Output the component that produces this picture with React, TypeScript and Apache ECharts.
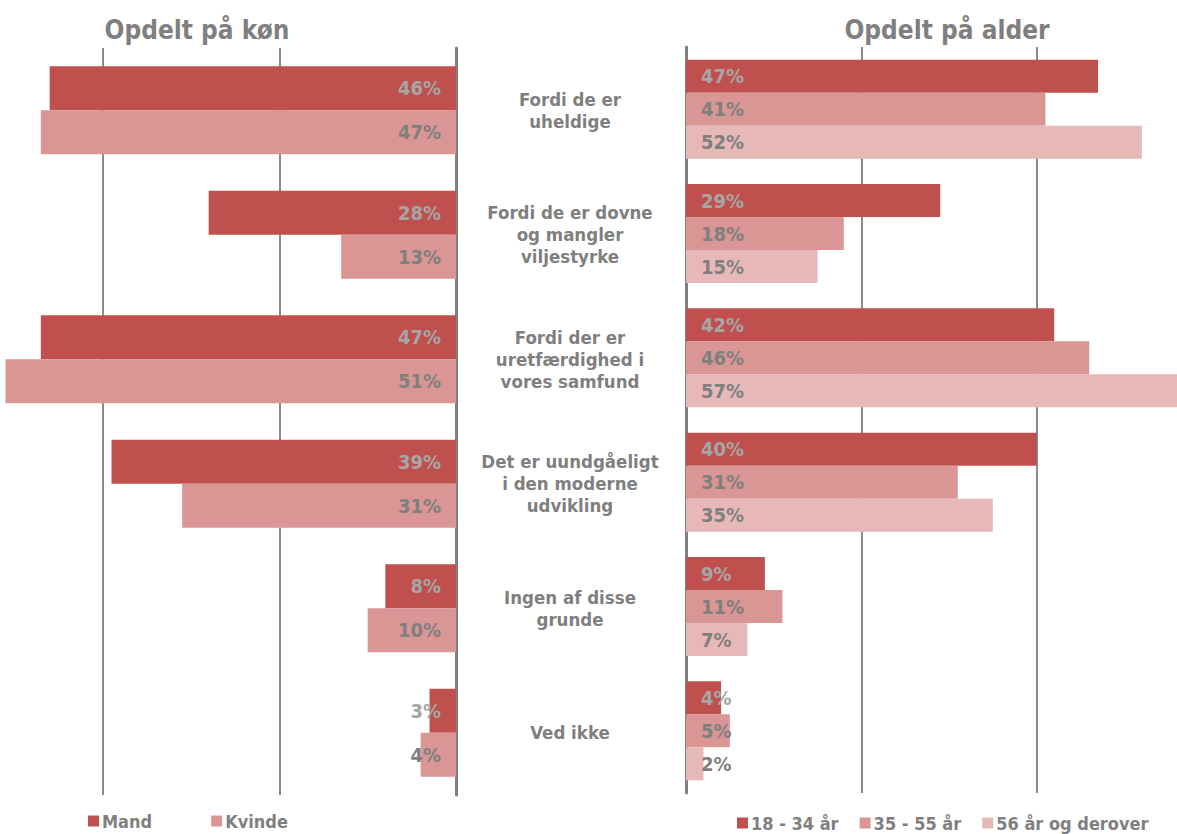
import React, { useEffect, useRef } from "react";
import * as echarts from "echarts";

const categories = [
  "Fordi de er\nuheldige",
  "Fordi de er dovne\nog mangler\nviljestyrke",
  "Fordi der er\nuretfærdighed i\nvores samfund",
  "Det er uundgåeligt\ni den moderne\nudvikling",
  "Ingen af disse\ngrunde",
  "Ved ikke",
];

const genderNames = ["Mand", "Kvinde"];
const mand = [46, 28, 47, 39, 8, 3];
const kvinde = [47, 13, 51, 31, 10, 4];

const ageNames = ["18 - 34 år", "35 - 55 år", "56 år og derover"];
const age18 = [47, 29, 42, 40, 9, 4];
const age35 = [41, 18, 46, 31, 11, 5];
const age56 = [52, 15, 57, 35, 7, 2];

const titleLeft = "Opdelt på køn";
const titleRight = "Opdelt på alder";

const FONT = '"DejaVu Sans Condensed", "DejaVu Sans", sans-serif';
const GRAY = "#7F7F7F";
const LIGHTGRAY = "#A6A6A6";
const C1 = "#C0504D";
const C2 = "#D99694";
const C3 = "#E6B9B8";

export default function App() {
  const ref = useRef<HTMLDivElement>(null);
  useEffect(() => {
    if (!ref.current) return;
    const chart = echarts.init(ref.current, null, { renderer: "svg" });

    const labelStyle = (pos: string, color: string) => ({
      show: true,
      position: pos,
      distance: 15,
      formatter: "{c}%",
      color,
      fontSize: 20,
      fontWeight: "bold",
      fontFamily: FONT,
    });

    const splitLine = { show: true, lineStyle: { color: "#8A8A8A", width: 2 } };
    const axisLineStyle = { show: true, lineStyle: { color: "#808080", width: 3 } };
    const legendText = { color: GRAY, fontSize: 18, fontWeight: "bold", fontFamily: FONT, padding: [0, 0, 0, -2] };

    chart.setOption({
      animation: false,
      backgroundColor: "#ffffff",
      textStyle: { fontFamily: FONT },
      grid: [
        { left: -74, right: 721, top: 48, bottom: 39, outerBoundsMode: "none", containLabel: false },
        { left: 686, right: -35, top: 47, bottom: 41, outerBoundsMode: "none", containLabel: false },
      ],
      xAxis: [
        {
          type: "value", gridIndex: 0, inverse: true, min: 0, max: 60, interval: 20,
          axisLabel: { show: false }, axisTick: { show: false }, axisLine: { show: false },
          splitLine,
        },
        {
          type: "value", gridIndex: 1, min: 0, max: 60, interval: 20,
          axisLabel: { show: false }, axisTick: { show: false }, axisLine: { show: false },
          splitLine,
        },
      ],
      yAxis: [
        {
          type: "category", gridIndex: 0, data: categories, inverse: true, position: "right",
          axisLine: axisLineStyle, axisTick: { show: false },
          axisLabel: {
            show: true, margin: 114, align: "center", color: GRAY,
            fontSize: 18.5, fontWeight: "bold", fontFamily: FONT, lineHeight: 22,
          },
        },
        {
          type: "category", gridIndex: 1, data: categories, inverse: true, position: "left",
          axisLine: axisLineStyle, axisTick: { show: false }, axisLabel: { show: false },
        },
      ],
      legend: [
        {
          data: genderNames, left: 88, top: 812, orient: "horizontal", padding: 0,
          icon: "rect", itemWidth: 11, itemHeight: 11, itemGap: 59,
          textStyle: legendText,
        },
        {
          data: ageNames, left: 737, top: 814, orient: "horizontal", padding: 0,
          icon: "rect", itemWidth: 11, itemHeight: 11, itemGap: 21,
          textStyle: legendText,
        },
      ],
      graphic: [
        {
          type: "text", x: 197, y: 30,
          style: { text: titleLeft, align: "center", verticalAlign: "middle", fill: GRAY, font: `bold 26px ${FONT}` },
        },
        {
          type: "text", x: 947, y: 30,
          style: { text: titleRight, align: "center", verticalAlign: "middle", fill: GRAY, font: `bold 26px ${FONT}` },
        },
      ],
      series: [
        {
          type: "bar", name: genderNames[0], xAxisIndex: 0, yAxisIndex: 0, data: mand,
          barWidth: 44, barGap: "0%", itemStyle: { color: C1 },
          label: labelStyle("insideRight", LIGHTGRAY),
        },
        {
          type: "bar", name: genderNames[1], xAxisIndex: 0, yAxisIndex: 0, data: kvinde,
          barWidth: 44, barGap: "0%", itemStyle: { color: C2 },
          label: labelStyle("insideRight", GRAY),
        },
        {
          type: "bar", name: ageNames[0], xAxisIndex: 1, yAxisIndex: 1, data: age18,
          barWidth: 33, barGap: "0%", itemStyle: { color: C1 },
          label: labelStyle("insideLeft", LIGHTGRAY),
        },
        {
          type: "bar", name: ageNames[1], xAxisIndex: 1, yAxisIndex: 1, data: age35,
          barWidth: 33, barGap: "0%", itemStyle: { color: C2 },
          label: labelStyle("insideLeft", GRAY),
        },
        {
          type: "bar", name: ageNames[2], xAxisIndex: 1, yAxisIndex: 1, data: age56,
          barWidth: 33, barGap: "0%", itemStyle: { color: C3 },
          label: labelStyle("insideLeft", GRAY),
        },
      ],
    });
    return () => chart.dispose();
  }, []);

  return (
    <div
      ref={ref}
      style={{ position: "absolute", left: 0, top: 0, width: 1177, height: 834, background: "#fff" }}
    />
  );
}
